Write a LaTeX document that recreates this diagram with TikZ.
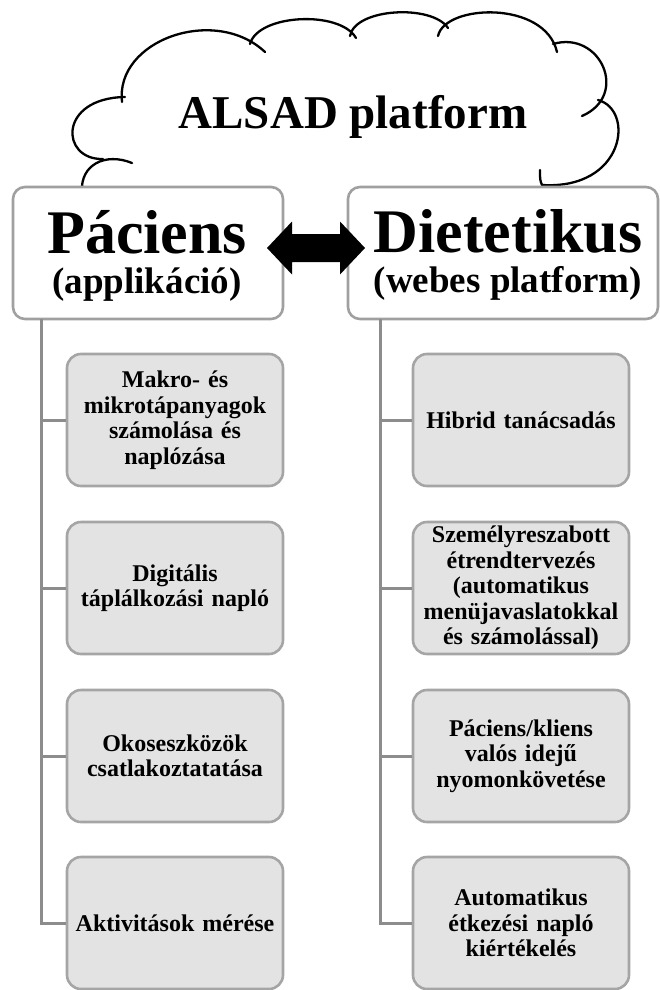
\documentclass[tikz,border=0pt]{standalone}
\usepackage{fontspec}
\setmainfont{Liberation Serif}
\definecolor{hdrgray}{RGB}{160,160,160}
\definecolor{itemgray}{RGB}{165,165,165}
\definecolor{itemfill}{RGB}{227,227,227}
\definecolor{conngray}{RGB}{140,140,140}
\begin{document}
\begin{tikzpicture}[x=1pt,y=-1pt,
  hdr/.style={draw=hdrgray, line width=2.6pt, fill=white, rounded corners=12pt, inner sep=0pt, minimum height=132pt},
  hdrbig/.style={anchor=base, inner sep=0pt, font=\bfseries\fontsize{62}{62}\selectfont},
  hdrsmall/.style={anchor=base, inner sep=0pt, font=\bfseries\fontsize{37}{37}\selectfont},
  item/.style={draw=itemgray, line width=2.6pt, fill=itemfill, rounded corners=14pt, minimum width=216pt, minimum height=132pt, inner sep=2pt, align=center, text width=206pt, font=\bfseries\fontsize{24}{25.5}\selectfont},
  conn/.style={draw=conngray, line width=3pt},
  cloudline/.style={line width=2.3pt, line cap=round}
]
\useasboundingbox (0,0) rectangle (660,990);

% cloud
\draw[cloudline] (82,192) .. controls (80,165) and (105,152) .. (132,163);
\draw[cloudline] (103,159) .. controls (60,160) and (58,98) .. (125,97);
\draw[cloudline] (122,102) .. controls (115,40) and (215,5) .. (265,52);
\draw[cloudline] (250,44) .. controls (258,14) and (340,10) .. (356,38);
\draw[cloudline] (350,36) .. controls (355,8) and (432,4) .. (448,28);
\draw[cloudline] (438,36) .. controls (445,4) and (545,0) .. (557,52);
\draw[cloudline] (553,44) .. controls (600,30) and (630,95) .. (582,116);
\draw[cloudline] (598,100) .. controls (635,110) and (625,190) .. (542,185) .. controls (540,180) .. (540,170);
\node[anchor=base, inner sep=0pt, font=\bfseries\fontsize{47}{47}\selectfont] (alsad) at (353,128) {ALSAD platform};

% header boxes
\node[hdr, minimum width=270pt] (pac) at (148,253) {};
\node[hdr, minimum width=310pt] (diet) at (503,253) {};
\node[hdrbig] (pacname) at (147,253) {Páciens};
\node[hdrsmall] (pacsub) at (147,293) {(applikáció)};
\node[hdrbig] (dietname) at (508,252) {Dietetikus};
\node[hdrsmall] (dietsub) at (508,292) {(webes platform)};

% double arrow
\fill (267,248) -- (292,221.5) -- (292,234) -- (340,234) -- (340,221.5) -- (365,248)
  -- (340,274.5) -- (340,262) -- (292,262) -- (292,274.5) -- cycle;

% items
\node[item] (L1) at (175,420) {Makro- és\\mikrotápanyagok\\számolása és\\naplózása};
\node[item] (L2) at (175,588) {Digitális\\táplálkozási napló};
\node[item] (L3) at (175,756) {Okoseszközök\\csatlakoztatatása};
\node[item] (L4) at (175,923) {Aktivitások mérése};
\node[item] (R1) at (521,420) {Hibrid tanácsadás};
\node[item] (R2) at (521,588) {Személyreszabott\\étrendtervezés\\(automatikus\\menüjavaslatokkal\\és számolással)};
\node[item] (R3) at (521,756) {Páciens/kliens\\valós idejű\\nyomonkövetése};
\node[item] (R4) at (521,923) {Automatikus\\étkezési napló\\kiértékelés};

% connectors
\coordinate (ltrunk) at (41,319);
\coordinate (rtrunk) at (380,319);
\draw[conn] (ltrunk) |- (L4.west);
\draw[conn] (rtrunk) |- (R4.west);
\foreach \n in {L1,L2,L3} \draw[conn] (ltrunk |- \n.west) -- (\n.west);
\foreach \n in {R1,R2,R3} \draw[conn] (rtrunk |- \n.west) -- (\n.west);
\end{tikzpicture}
\end{document}
